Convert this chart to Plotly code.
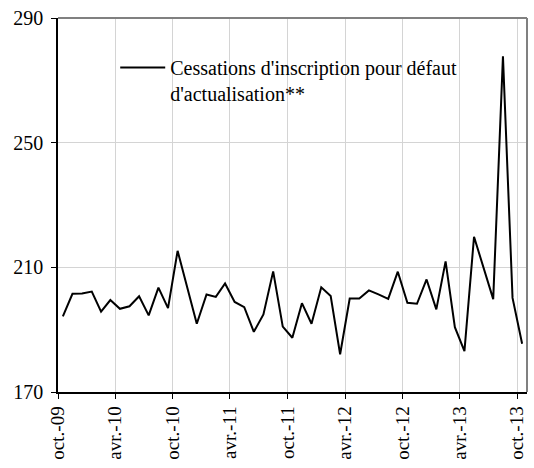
import plotly.graph_objects as go

months = [
    "2009-10", "2009-11", "2009-12", "2010-01", "2010-02", "2010-03", "2010-04", "2010-05", "2010-06",
    "2010-07", "2010-08", "2010-09", "2010-10", "2010-11", "2010-12", "2011-01", "2011-02", "2011-03",
    "2011-04", "2011-05", "2011-06", "2011-07", "2011-08", "2011-09", "2011-10", "2011-11", "2011-12",
    "2012-01", "2012-02", "2012-03", "2012-04", "2012-05", "2012-06", "2012-07", "2012-08", "2012-09",
    "2012-10", "2012-11", "2012-12", "2013-01", "2013-02", "2013-03", "2013-04", "2013-05", "2013-06",
    "2013-07", "2013-08", "2013-09", "2013-10",
]
values = [
    194.3, 201.5, 201.6, 202.2, 195.8, 199.5, 196.7, 197.5, 200.7,
    194.6, 203.5, 196.9, 215.3, 203.6, 191.9, 201.3, 200.5, 204.8,
    198.9, 197.2, 189.3, 194.9, 208.7, 191.0, 187.4, 198.5, 191.9,
    203.6, 200.8, 182.1, 200.0, 200.0, 202.6, 201.3, 199.9, 208.6,
    198.6, 198.3, 206.1, 196.5, 211.9, 190.8, 183.1, 219.8, 210.0,
    199.8, 277.7, 200.2, 185.5,
]
series_name = "Cessations d'inscription pour défaut<br>d'actualisation**"
tick_dates = ["2009-10-01", "2010-04-01", "2010-10-01", "2011-04-01", "2011-10-01",
              "2012-04-01", "2012-10-01", "2013-04-01", "2013-10-01"]
tick_labels = ["oct.-09", "avr.-10", "oct.-10", "avr.-11", "oct.-11",
               "avr.-12", "oct.-12", "avr.-13", "oct.-13"]
y_ticks = [170, 210, 250, 290]

FONT = "Times New Roman, Liberation Serif, DejaVu Serif, serif"

fig = go.Figure()
fig.add_trace(go.Scatter(
    x=months, y=values, mode="lines", name=series_name,
    xperiod="M1", xperiodalignment="middle",
    line=dict(color="black", width=2),
))

fig.update_layout(
    width=534, height=468,
    margin=dict(l=58, r=7, t=16, b=76),
    paper_bgcolor="white", plot_bgcolor="white",
    font=dict(family=FONT, size=20, color="black"),
    showlegend=True,
    legend=dict(
        x=0.122, y=0.92, xanchor="left", yanchor="top",
        bgcolor="rgba(0,0,0,0)", borderwidth=0,
        font=dict(family=FONT, size=20, color="black"),
        valign="top", itemwidth=45,
    ),
    xaxis=dict(
        type="date", range=["2009-10-01", "2013-11-01"],
        tickmode="array", tickvals=tick_dates, ticktext=tick_labels,
        tickangle=-90, ticks="outside", ticklen=5, tickcolor="black",
        showgrid=True, gridcolor="#d4d4d4", gridwidth=1,
        showline=True, linecolor="black", linewidth=1.5,
        tickfont=dict(family=FONT, size=19),
    ),
    yaxis=dict(
        range=[170, 290], tickmode="array", tickvals=y_ticks,
        ticks="outside", ticklen=5, tickcolor="black",
        showgrid=True, gridcolor="#d4d4d4", gridwidth=1,
        showline=True, linecolor="black", linewidth=1.5,
        tickfont=dict(family=FONT, size=20), ticklabelstandoff=4,
    ),
    shapes=[
        dict(type="rect", xref="paper", yref="paper", x0=0.11, x1=0.99, y0=0.75, y1=0.905,
             fillcolor="white", line=dict(width=0), layer="between"),
        dict(type="line", xref="paper", yref="paper", x0=0, x1=1, y0=1, y1=1,
             line=dict(color="#808080", width=2)),
        dict(type="line", xref="paper", yref="paper", x0=1, x1=1, y0=0, y1=1,
             line=dict(color="#808080", width=2)),
    ],
)

fig.write_html("out.html", config={"displayModeBar": False},
               post_script="document.body.style.margin='0';document.body.style.padding='0';")
